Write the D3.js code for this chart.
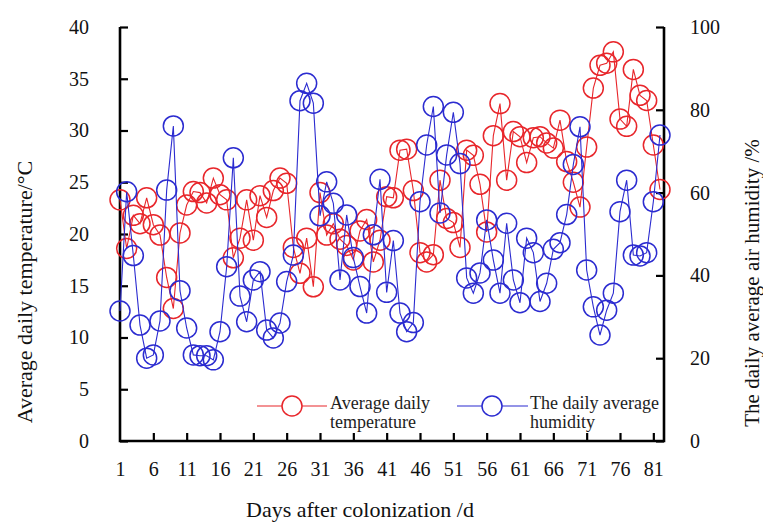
<!DOCTYPE html>
<html><head><meta charset="utf-8">
<script src="https://cdn.jsdelivr.net/npm/d3@7/dist/d3.min.js"></script>
<style>body{margin:0;background:#fff;}</style></head>
<body><svg id="c" width="763" height="525"></svg>
<script>
const days = d3.range(1, 83);
const dayTicks = [1,6,11,16,21,26,31,36,41,46,51,56,61,66,71,76,81];
const tempTicks = [0,5,10,15,20,25,30,35,40];
const humTicks = [0,20,40,60,80,100];
const temperature = [23.3,18.6,21.8,21.0,23.5,20.9,19.9,15.8,12.8,20.1,
22.8,24.1,24.0,23.0,25.4,23.8,23.3,17.7,19.6,23.3,
19.4,23.7,21.6,24.2,25.4,24.9,18.7,16.2,19.6,14.9,
24.0,19.9,21.0,19.5,18.9,17.5,20.3,21.4,17.3,19.4,
23.6,23.5,28.1,28.2,24.2,18.2,17.3,18.0,25.2,21.5,
21.1,18.7,28.1,27.6,24.8,20.2,29.5,32.6,25.2,29.9,
29.4,26.9,29.3,29.4,28.8,28.3,31.0,27.0,25.0,22.6,
28.4,34.1,36.3,36.5,37.6,31.1,30.4,35.9,33.4,32.9,
28.6,24.3];
const humidity = [31.4,60.2,44.8,28.0,20.0,20.8,29.0,60.6,76.1,36.3,
27.3,20.8,20.6,20.6,19.6,26.4,42.1,68.4,35.0,28.8,
38.9,40.9,26.8,24.9,28.5,38.5,44.9,82.2,86.4,81.6,
54.4,62.6,57.4,38.9,54.6,44.3,37.3,30.9,49.8,63.2,
35.9,48.4,30.9,26.4,28.6,57.8,71.5,80.8,55.1,69.1,
79.4,67.0,39.4,35.7,40.6,53.4,43.7,35.7,52.6,38.9,
33.4,49.0,45.5,33.7,38.1,46.3,47.9,54.7,66.8,75.9,
41.3,32.4,25.6,31.6,35.7,55.4,63.0,44.9,44.7,45.5,
57.8,73.9];
const seriesNames = ["Average daily|temperature", "The daily average|humidity"];

const FONT = '"Liberation Serif", Tinos, "Times New Roman", serif';
const FONT_BIG = 'Tinos, "Times New Roman", "Nimbus Roman", "Liberation Serif", serif';
const RED = "#e8262b", BLUE = "#2b2bd0";
const L = 120, R = 664, T = 27, B = 441;
const svg = d3.select("#c");
const x = d3.scaleLinear().domain([1, 82]).range([L, 660]);
const yT = d3.scaleLinear().domain([0, 40]).range([B, T]);
const yH = d3.scaleLinear().domain([0, 100]).range([B, T]);

// axes
const gx = svg.append("g").attr("transform", `translate(0,${B})`)
  .call(d3.axisBottom(x).tickValues(dayTicks).tickSize(-8).tickSizeOuter(0).tickPadding(21));
const gl = svg.append("g").attr("transform", `translate(${L},0)`)
  .call(d3.axisLeft(yT).tickValues(tempTicks).tickSize(-8).tickSizeOuter(0).tickPadding(31));
const gr = svg.append("g").attr("transform", `translate(${R},0)`)
  .call(d3.axisRight(yH).tickValues(humTicks).tickSize(-8).tickSizeOuter(0).tickPadding(26));
[gx, gl, gr].forEach(g => {
  g.select(".domain").remove();
  g.selectAll(".tick line").attr("stroke", "#000").attr("stroke-width", 2.2);
  g.selectAll(".tick text").attr("font-size", 20).attr("fill", "#111")
   .style("font-family", FONT);
});
gx.selectAll(".tick").filter(d => d === 1).select("line").remove();
// axis lines
svg.append("path").attr("d", `M${L},${T}V${B}H${R}V${T}`)
  .attr("fill", "none").attr("stroke", "#000").attr("stroke-width", 2.6);

// series
function drawSeries(vals, y, color) {
  const line = d3.line().x((d, i) => x(days[i])).y(d => y(d));
  svg.append("path").datum(vals).attr("d", line)
    .attr("fill", "none").attr("stroke", color).attr("stroke-width", 1.1);
  svg.append("g").selectAll("circle").data(vals).join("circle")
    .attr("cx", (d, i) => x(days[i])).attr("cy", d => y(d)).attr("r", 10)
    .attr("fill", "none").attr("stroke", color).attr("stroke-width", 1.5);
}
drawSeries(temperature, yT, RED);
drawSeries(humidity, yH, BLUE);

// legend
const leg = [{c: RED, x0: 257, x1: 327, cx: 292, tx: 330, name: seriesNames[0]},
             {c: BLUE, x0: 457, x1: 528, cx: 492, tx: 530, name: seriesNames[1]}];
leg.forEach(l => {
  svg.append("line").attr("x1", l.x0).attr("x2", l.x1).attr("y1", 406).attr("y2", 406)
    .attr("stroke", l.c).attr("stroke-width", 1.1);
  svg.append("circle").attr("cx", l.cx).attr("cy", 406).attr("r", 10)
    .attr("fill", "#fff").attr("stroke", l.c).attr("stroke-width", 1.5);
  const parts = l.name.split("|");
  svg.append("text").attr("x", l.tx).attr("y", 409).attr("font-size", 18).attr("fill", "#222")
    .style("font-family", FONT).text(parts[0]);
  svg.append("text").attr("x", l.tx).attr("y", 428).attr("font-size", 18).attr("fill", "#222")
    .style("font-family", FONT).text(parts[1]);
});

// titles
svg.append("text").attr("x", 360).attr("y", 517).attr("text-anchor", "middle")
  .attr("font-size", 22).attr("fill", "#111").style("font-family", FONT_BIG).text("Days after colonization /d");
svg.append("text").attr("transform", "translate(32,292) rotate(-90)").attr("text-anchor", "middle")
  .attr("font-size", 22).attr("fill", "#111").style("font-family", FONT_BIG).text("Average daily temperature/°C");
svg.append("text").attr("transform", "translate(759,283) rotate(-90)").attr("text-anchor", "middle")
  .attr("font-size", 21).attr("fill", "#111").style("font-family", FONT_BIG).text("The daily average air humidity /%");
</script></body></html>
